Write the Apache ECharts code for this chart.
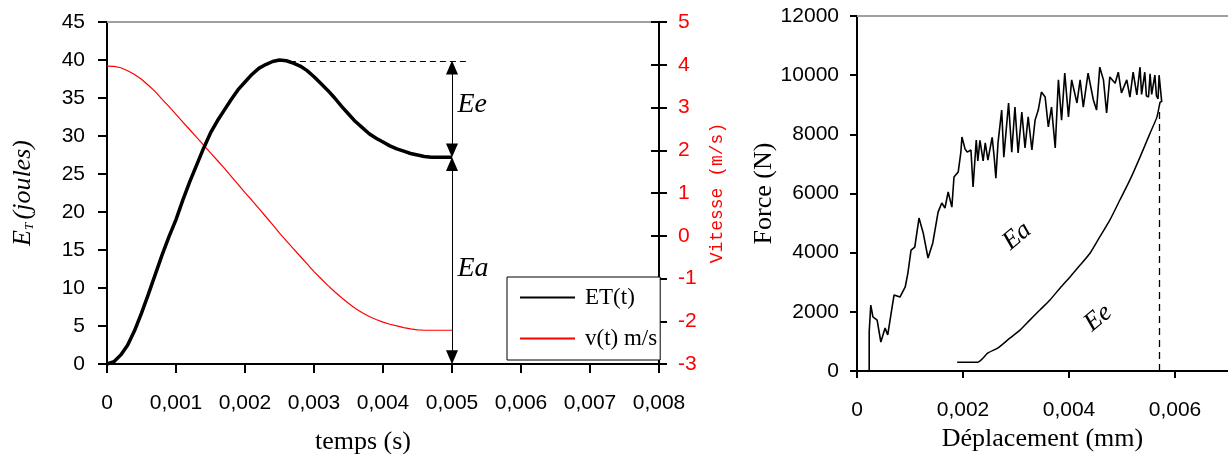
<!DOCTYPE html>
<html>
<head>
<meta charset="utf-8">
<script src="https://cdn.jsdelivr.net/npm/echarts@6/dist/echarts.min.js"></script>
<style>
html,body{margin:0;padding:0;background:#fff;}
#c{width:1228px;height:454px;}
</style>
</head>
<body>
<div id="c"></div>
<script>
// ---- Left chart: energy and velocity vs time ----
const timeS = [0,0.0001,0.0002,0.0003,0.0004,0.0005,0.0006,0.0007,0.0008,0.0009,0.001,0.0011,0.0012,0.0013,0.0014,0.0015,0.0016,0.0017,0.0018,0.0019,0.002,0.0021,0.0022,0.0023,0.0024,0.0025,0.0026,0.0027,0.0028,0.0029,0.003,0.0031,0.0032,0.0033,0.0034,0.0035,0.0036,0.0037,0.0038,0.0039,0.004,0.0041,0.0042,0.0043,0.0044,0.0045,0.0046,0.0047,0.0048,0.0049,0.005];
const energyET = [0,0.3,1.2,2.5,4.4,6.7,9.2,11.8,14.4,16.8,19.0,21.6,24,26.2,28.4,30.4,32,33.4,34.8,36.1,37.1,38.1,38.9,39.4,39.8,40,39.9,39.6,39.2,38.6,37.8,36.9,36,35,33.9,32.9,31.9,31.1,30.3,29.7,29.2,28.7,28.3,28,27.7,27.5,27.3,27.2,27.2,27.2,27.2];
const velocityV = [3.97,3.96,3.93,3.86,3.77,3.66,3.52,3.37,3.19,3.02,2.84,2.66,2.48,2.3,2.12,1.94,1.76,1.58,1.39,1.2,1.01,0.83,0.64,0.45,0.26,0.06,-0.12,-0.3,-0.48,-0.66,-0.84,-1.0,-1.16,-1.31,-1.45,-1.58,-1.7,-1.8,-1.89,-1.96,-2.02,-2.07,-2.11,-2.15,-2.18,-2.2,-2.21,-2.21,-2.21,-2.21,-2.21];
const seriesNames = ['ET(t)','v(t) m/s'];
// annotation values (data space)
const energyMax = 39.8, annotT = 0.005;

// ---- Right chart: force vs displacement ----
const loadDisp = [0.00023,0.00023,0.00026,0.0003,0.00038,0.00045,0.00053,0.00058,0.00066,0.0007,0.00081,0.00091,0.00096,0.00102,0.00109,0.00117,0.00125,0.00134,0.00143,0.00153,0.0016,0.00166,0.00172,0.00179,0.00183,0.00191,0.00196,0.00198,0.00204,0.00208,0.00215,0.00219,0.00225,0.00228,0.00232,0.00238,0.00242,0.00247,0.00255,0.00259,0.00262,0.00266,0.00273,0.00277,0.00286,0.00292,0.00298,0.00304,0.00311,0.00317,0.00323,0.0033,0.00336,0.00342,0.00348,0.00355,0.00361,0.00367,0.00374,0.0038,0.00386,0.00392,0.00399,0.00405,0.00415,0.00421,0.00427,0.00436,0.00446,0.00452,0.00458,0.00465,0.00471,0.00477,0.00487,0.00493,0.00499,0.00509,0.00515,0.00521,0.00528,0.00534,0.00537,0.0054,0.00543,0.00546,0.0055,0.00553,0.00556,0.00559,0.00562,0.00565,0.00568,0.0057,0.00573,0.00575];
const loadForce = [0,1320,2230,1830,1720,980,1450,1220,2130,2570,2500,2840,3310,4090,4190,5170,4660,3820,4330,5370,5680,5510,6050,5540,6560,6730,7400,7910,7500,7400,7470,6220,7810,7100,7800,7100,7710,7130,7900,7200,6520,7700,8820,7230,9060,7400,8920,7370,8750,7540,8590,7470,8480,8820,9430,9260,8250,8920,7540,9840,8480,10070,8590,9840,9060,9840,8920,10070,9160,8820,10270,9840,8720,9940,9730,10100,9400,9840,9260,10100,9330,10270,9350,9400,10100,9300,9260,10050,9350,9300,10000,9300,9200,10000,9950,9090];
const unloadDisp = [0.00575,0.00572,0.00566,0.00553,0.00534,0.00515,0.00496,0.00477,0.00458,0.0044,0.00421,0.00402,0.00383,0.00364,0.00345,0.00326,0.00308,0.00289,0.00266,0.00247,0.00228,0.00189];
const unloadForce = [9100,9090,8590,8040,7230,6460,5780,5100,4530,3990,3580,3180,2800,2400,2060,1720,1390,1120,780,610,300,300];
const dispMaxX = 0.0057, dispLineTop = 8900;

const rightXTicks = [0,0.002,0.004,0.006];

function fmt(v){ if (Math.abs(v) < 1e-12) return '0'; return v.toFixed(3).replace('.', ','); }
const serif = 'Liberation Serif';
const sans = 'Liberation Sans';
const pairs = (xs, ys) => xs.map((x,i)=>[x, ys[i]]);

const chart = echarts.init(document.getElementById('c'), null, {renderer:'canvas'});
const axLine = {show:true, onZero:false, lineStyle:{color:'#000', width:2}};
const topLine = {show:true, onZero:false, lineStyle:{color:'#a0a0a0', width:2}};

chart.setOption({
  animation:false,
  backgroundColor:'#fff',
  grid:[
    {left:107, top:22, width:552, height:342, outerBoundsMode:'none', containLabel:false},
    {left:857, top:16, width:371, height:355, outerBoundsMode:'none', containLabel:false}
  ],
  legend:{
    data:seriesNames, orient:'vertical', left:507, top:277,
    itemWidth:55, itemHeight:14, itemGap:18,
    padding:[9,3,10,12], borderColor:'#000', borderWidth:1, backgroundColor:'#fff',
    itemStyle:{opacity:0},
    textStyle:{fontFamily:serif, fontSize:23, color:'#000', padding:[0,0,0,5]},
    z:10
  },
  xAxis:[
    {type:'value', gridIndex:0, position:'bottom', min:0, max:0.008, interval:0.001,
     axisLine:axLine, axisTick:{show:true, length:9, lineStyle:{color:'#000', width:2}},
     axisLabel:{formatter:fmt, fontFamily:sans, fontSize:21, color:'#000', margin:29},
     splitLine:{show:false},
     name:'temps (s)', nameLocation:'middle', nameGap:65,
     nameTextStyle:{fontFamily:serif, fontSize:26, color:'#000', padding:[0,40,0,0]}},
    {type:'value', gridIndex:0, position:'top', min:0, max:0.008,
     axisLine:topLine, axisTick:{show:false}, axisLabel:{show:false}, splitLine:{show:false}},
    {type:'value', gridIndex:1, position:'bottom', min:0, max:0.007, interval:0.002,
     axisLine:axLine,
     axisTick:{show:true, length:7, lineStyle:{color:'#000', width:2}, customValues:rightXTicks},
     axisLabel:{formatter:(v)=> v > 0.0065 ? '' : fmt(v), fontFamily:sans, fontSize:21, color:'#000', margin:29, customValues:rightXTicks},
     splitLine:{show:false},
     name:'Déplacement (mm)', nameLocation:'middle', nameGap:51,
     nameTextStyle:{fontFamily:serif, fontSize:26, color:'#000'}},
    {type:'value', gridIndex:1, position:'top', min:0, max:0.007,
     axisLine:topLine, axisTick:{show:false}, axisLabel:{show:false}, splitLine:{show:false}}
  ],
  yAxis:[
    {type:'value', gridIndex:0, position:'left', min:0, max:45, interval:5,
     axisLine:axLine, axisTick:{show:true, length:9, lineStyle:{color:'#000', width:2}},
     axisLabel:{fontFamily:sans, fontSize:21, color:'#000', margin:22},
     splitLine:{show:false},
     name:'{e|E}{t|T} {j|(joules)}', nameLocation:'middle', nameGap:71, nameRotate:90,
     nameTextStyle:{color:'#000', rich:{
       e:{fontFamily:serif, fontStyle:'italic', fontSize:26, color:'#000'},
       t:{fontFamily:serif, fontStyle:'italic', fontSize:13, color:'#000', verticalAlign:'bottom'},
       j:{fontFamily:serif, fontStyle:'italic', fontSize:26, color:'#000'}}}},
    {type:'value', gridIndex:0, position:'right', min:-3, max:5, interval:1,
     axisLine:axLine, axisTick:{show:true, length:8, lineStyle:{color:'#000', width:2}},
     axisLabel:{fontFamily:sans, fontSize:21, color:'#ff0000', margin:19},
     splitLine:{show:false},
     name:'Vitesse (m/s)', nameLocation:'middle', nameGap:49, nameRotate:90,
     nameTextStyle:{fontFamily:'Liberation Mono', fontSize:18, color:'#ff0000'}},
    {type:'value', gridIndex:0, position:'right', min:-3, max:5, interval:1,
     axisLine:axLine, axisTick:{show:true, inside:true, length:8, lineStyle:{color:'#000', width:2}},
     axisLabel:{show:false}, splitLine:{show:false}},
    {type:'value', gridIndex:1, position:'left', min:0, max:12000, interval:2000,
     axisLine:axLine, axisTick:{show:true, length:7, lineStyle:{color:'#000', width:2}},
     axisLabel:{formatter:(v)=>String(v), fontFamily:sans, fontSize:21, color:'#000', margin:18},
     splitLine:{show:false},
     name:'Force (N)', nameLocation:'middle', nameGap:78, nameRotate:90,
     nameTextStyle:{fontFamily:serif, fontSize:26, color:'#000'}}
  ],
  series:[
    {name:seriesNames[0], type:'line', xAxisIndex:0, yAxisIndex:0, data:pairs(timeS, energyET),
     symbol:'none', showSymbol:false, lineStyle:{color:'#000', width:3.5}, itemStyle:{color:'#000'}, z:3,
     markLine:{silent:true, symbol:['triangle','triangle'], symbolSize:[12,14],
       label:{show:false}, lineStyle:{color:'#000', width:1, type:'solid'},
       data:[
         [{coord:[annotT, 39.0]},{coord:[annotT, 28.1]}],
         [{coord:[annotT, 26.3]},{coord:[annotT, 0.9]}],
         [{coord:[0.00265, energyMax], symbol:'none', lineStyle:{type:[6,4]}},{coord:[0.00525, energyMax], symbol:'none'}]
       ]},
     markPoint:{silent:true, symbol:'circle', symbolSize:1, itemStyle:{color:'rgba(0,0,0,0)'},
       label:{show:true, position:'right', distance:5, fontFamily:serif, fontStyle:'italic', fontSize:28, color:'#000', formatter:(p)=>p.name},
       data:[{name:'Ee', coord:[annotT, 34.1]},{name:'Ea', coord:[annotT, 12.6]}]}},
    {name:seriesNames[1], type:'line', xAxisIndex:0, yAxisIndex:1, data:pairs(timeS, velocityV),
     symbol:'none', showSymbol:false, lineStyle:{color:'#ff0000', width:1.2}, itemStyle:{color:'#ff0000'}, z:2},
    {name:'load', type:'line', xAxisIndex:2, yAxisIndex:3, data:pairs(loadDisp, loadForce),
     symbol:'none', showSymbol:false, lineStyle:{color:'#000', width:1.6}},
    {name:'unload', type:'line', xAxisIndex:2, yAxisIndex:3, data:pairs(unloadDisp, unloadForce),
     symbol:'none', showSymbol:false, smooth:0.2, lineStyle:{color:'#000', width:1.5},
     markLine:{silent:true, symbol:'none', label:{show:false},
       lineStyle:{color:'#000', width:1.3, type:[7,5]},
       data:[[{coord:[dispMaxX, 0]},{coord:[dispMaxX, dispLineTop]}]]},
     markPoint:{silent:true, symbol:'circle', symbolSize:1, itemStyle:{color:'rgba(0,0,0,0)'},
       label:{show:true, position:'inside', rotate:40, fontFamily:serif, fontStyle:'italic', fontSize:26, color:'#000', formatter:(p)=>p.name},
       data:[{name:'Ea', coord:[0.00302, 4560]},{name:'Ee', coord:[0.00455, 1790]}]}}
  ]
});
</script>
</body>
</html>
